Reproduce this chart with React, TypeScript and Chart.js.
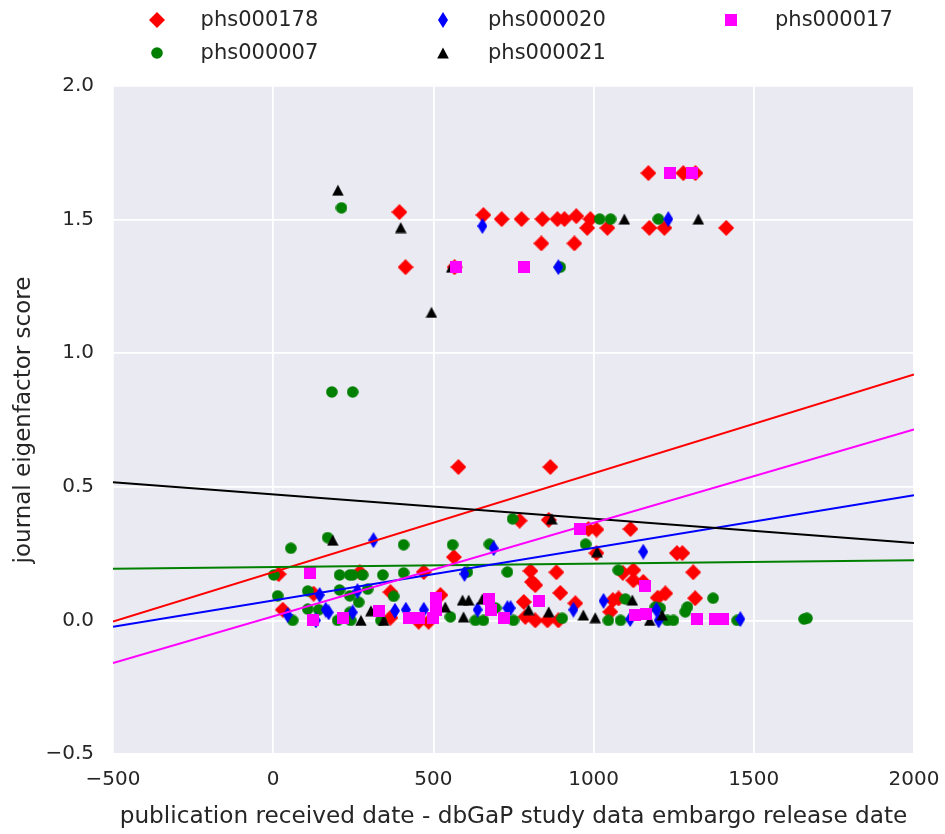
import React, { useEffect, useRef } from 'react';
import { Chart, registerables } from 'chart.js';

Chart.register(...registerables);

// ---------- data ----------
const seriesNames = ['phs000178', 'phs000007', 'phs000020', 'phs000021', 'phs000017'];
const seriesColors = ['#ff0000', '#008000', '#0000ff', '#000000', '#ff00ff'];
const seriesMarkers = ['diamond', 'circle', 'thin_diamond', 'triangle', 'square'];

const redX = [394, 413, 566, 656, 713, 775, 840, 887, 909, 946, 990, 980, 1043, 1174, 1221, 1414, 837, 940, 1171, 1280, 1318,
  578, 865,
  17, 270, 126, 366, 30, 366, 769, 860, 984, 1009, 1115, 564, 1009, 470, 803, 884, 1091, 818, 808, 896, 522, 782, 943, 1060, 1078,
  454, 485, 787, 818, 856, 890, 1260, 1277, 1311, 1124, 1124, 1155, 1224, 1200, 1317, 1052];
const redY = [1.528, 1.322, 1.322, 1.517, 1.502, 1.502, 1.502, 1.502, 1.502, 1.513, 1.502, 1.469, 1.469, 1.469, 1.469, 1.469, 1.411, 1.411, 1.674, 1.674, 1.674,
  0.574, 0.574,
  0.173, 0.18, 0.1, 0.106, 0.04, 0.01, 0.373, 0.376, 0.342, 0.34, 0.342, 0.237, 0.252, 0.181, 0.185, 0.18, 0.178, 0.132, 0.144, 0.103, 0.095, 0.069, 0.064, 0.076, 0.082,
  -0.005, -0.005, 0.013, 0.0, 0.0, 0.0, 0.252, 0.252, 0.18, 0.188, 0.15, 0.144, 0.101, 0.085, 0.083, 0.032];

const greenX = [213, 1019, 1053, 1202, 896,
  183, 248,
  55, 170, 407, 560, 675, 975, 747, 2, 207, 239, 248, 279, 342, 407, 606, 731, 1077,
  14, 108, 207, 239, 295, 267, 376, 61, 108, 142, 201, 239, 242, 336, 553, 631, 656, 694, 750, 902, 1046, 1084,
  1099, 1193, 1208, 1286, 1293, 1373, 1230, 1249, 1448, 1657, 1666];
const greenY = [1.544, 1.502, 1.502, 1.502, 1.322,
  0.855, 0.855,
  0.27, 0.31, 0.283, 0.283, 0.285, 0.285, 0.38, 0.17, 0.17, 0.17, 0.17, 0.17, 0.17, 0.178, 0.181, 0.181, 0.188,
  0.092, 0.11, 0.114, 0.092, 0.117, 0.068, 0.09, 0.0, 0.042, 0.04, 0.0, 0.03, 0.0, 0.0, 0.013, 0.0, 0.0, 0.046, 0.0, 0.008, 0.0, 0.0,
  0.08, 0.05, 0.046, 0.032, 0.05, 0.083, 0.0, 0.0, 0.0, 0.005, 0.008];

const blueX = [653, 1233, 890, 313, 688, 1155, 597, 145, 263, 45, 164, 173, 133, 248, 380, 414, 470, 638, 731, 741, 937, 1031, 1114, 1196, 1203, 1458];
const blueY = [1.476, 1.502, 1.322, 0.3, 0.27, 0.257, 0.174, 0.095, 0.11, 0.02, 0.04, 0.03, 0.0, 0.03, 0.036, 0.04, 0.04, 0.04, 0.046, 0.046, 0.04, 0.073, 0.005, 0.04, 0.0, 0.005];

const blackX = [202, 398, 557, 494, 1096, 1327, 186, 869, 1011, 274, 305, 345, 537, 591, 610, 653, 594, 797, 860, 968, 1005, 1121, 1175, 1214];
const blackY = [1.61, 1.47, 1.322, 1.153, 1.502, 1.502, 0.3, 0.38, 0.257, 0.0, 0.036, 0.0, 0.05, 0.076, 0.076, 0.08, 0.013, 0.04, 0.032, 0.02, 0.01, 0.076, 0.0, 0.02];

const magentaX = [572, 784, 1240, 1308, 959, 114, 1159, 123, 218, 330, 507, 507, 423, 454, 498, 675, 681, 719, 831, 1130, 1164, 1323, 1380, 1405];
const magentaY = [1.322, 1.322, 1.674, 1.674, 0.342, 0.177, 0.129, 0.0, 0.008, 0.036, 0.084, 0.04, 0.008, 0.008, 0.008, 0.08, 0.04, 0.008, 0.072, 0.02, 0.023, 0.005, 0.005, 0.005];

// regression lines: values at the two ends of the x range
const fitX = [-500, 2000];
const fitRedY = [-0.004, 0.92];
const fitGreenY = [0.193, 0.225];
const fitBlueY = [-0.024, 0.468];
const fitBlackY = [0.517, 0.29];
const fitMagentaY = [-0.16, 0.715];

const xTicks = [-500, 0, 500, 1000, 1500, 2000];
const xTickLabels = ['\u2212500', '0', '500', '1000', '1500', '2000'];
const yTicks = [-0.5, 0, 0.5, 1, 1.5, 2];
const yTickLabels = ['\u22120.5', '0.0', '0.5', '1.0', '1.5', '2.0'];

const xTitle = 'publication received date - dbGaP study data embargo release date';
const yTitle = 'journal eigenfactor score';

// ---------- helpers ----------
const FONT = "'DejaVu Sans', sans-serif";
const TEXT = '#262626';

function makeMarker(kind: string, color: string): HTMLCanvasElement {
  const c = document.createElement('canvas');
  let w = 12, h = 12;
  if (kind === 'diamond') { w = 16; h = 16; }
  if (kind === 'thin_diamond') { w = 10; h = 16; }
  c.width = w; c.height = h;
  const ctx = c.getContext('2d')!;
  ctx.fillStyle = color;
  ctx.beginPath();
  if (kind === 'diamond' || kind === 'thin_diamond') {
    ctx.moveTo(w / 2, 0); ctx.lineTo(w, h / 2); ctx.lineTo(w / 2, h); ctx.lineTo(0, h / 2); ctx.closePath();
  } else if (kind === 'circle') {
    ctx.arc(6, 6, 5.8, 0, Math.PI * 2);
  } else if (kind === 'triangle') {
    ctx.moveTo(6, 0.5); ctx.lineTo(11.8, 11.5); ctx.lineTo(0.2, 11.5); ctx.closePath();
  } else {
    ctx.rect(0, 0, w, h);
  }
  ctx.fill();
  return c;
}

function pts(xs: number[], ys: number[]) {
  return xs.map((x, i) => ({ x, y: ys[i] }));
}

export default function App() {
  const ref = useRef<HTMLCanvasElement>(null);

  useEffect(() => {
    if (!ref.current) return;
    const markers = seriesMarkers.map((m, i) => makeMarker(m, seriesColors[i]));
    const xs = [redX, greenX, blueX, blackX, magentaX];
    const ys = [redY, greenY, blueY, blackY, magentaY];
    const fits = [fitRedY, fitGreenY, fitBlueY, fitBlackY, fitMagentaY];

    const scatterSets = seriesNames.map((name, i) => ({
      type: 'scatter' as const,
      label: name,
      data: pts(xs[i], ys[i]),
      pointStyle: markers[i],
      pointRadius: 6,
      pointHoverRadius: 6,
      backgroundColor: seriesColors[i],
      borderColor: seriesColors[i],
      borderWidth: 0,
      order: 9 - i,
    }));
    const lineSets = seriesNames.map((name, i) => ({
      type: 'scatter' as const,
      label: name + ' fit',
      data: pts(fitX, fits[i]),
      showLine: true,
      pointRadius: 0,
      borderColor: seriesColors[i],
      backgroundColor: seriesColors[i],
      borderWidth: 2,
      order: 4 - i,
    }));

    const bgPlugin = {
      id: 'bg',
      beforeDraw(chart: any) {
        const { ctx, chartArea } = chart;
        ctx.save();
        ctx.fillStyle = '#ffffff';
        ctx.fillRect(0, 0, chart.width, chart.height);
        ctx.fillStyle = '#eaeaf2';
        ctx.fillRect(chartArea.left, chartArea.top, chartArea.right - chartArea.left, chartArea.bottom - chartArea.top);
        ctx.restore();
      },
    };

    const legendPlugin = {
      id: 'customLegend',
      afterDraw(chart: any) {
        const ctx = chart.ctx as CanvasRenderingContext2D;
        const colMarkerX = [156.6, 443, 731];
        const colTextX = [200.6, 488, 775];
        const rowY = [20, 53];
        ctx.save();
        ctx.font = `21px ${FONT}`;
        ctx.fillStyle = TEXT;
        ctx.textBaseline = 'middle';
        ctx.textAlign = 'left';
        seriesNames.forEach((name, i) => {
          const col = Math.floor(i / 2);
          const row = i % 2;
          const m = markers[i];
          ctx.drawImage(m, Math.round(colMarkerX[col] - m.width / 2), Math.round(rowY[row] - m.height / 2));
          ctx.fillText(name, colTextX[col], rowY[row] + 1);
        });
        ctx.restore();
      },
    };

    const chart = new Chart(ref.current, {
      type: 'scatter',
      data: { datasets: [...scatterSets, ...lineSets] as any },
      options: {
        animation: false,
        responsive: false,
        devicePixelRatio: 1,
        layout: { padding: { top: 86, right: 31, bottom: 0, left: 0 } },
        plugins: { legend: { display: false }, tooltip: { enabled: false } },
        scales: {
          x: {
            type: 'linear',
            min: -500,
            max: 2000,
            afterBuildTicks: (s: any) => { s.ticks = xTicks.map((v) => ({ value: v })); },
            afterFit: (s: any) => { s.height = 80; s.paddingLeft = 0; s.paddingRight = 0; },
            ticks: {
              callback: (v: any) => xTickLabels[xTicks.indexOf(Number(v))] ?? '',
              font: { family: FONT, size: 20 },
              color: TEXT,
              padding: 14,
              maxRotation: 0,
              autoSkip: false,
            },
            grid: { color: '#ffffff', lineWidth: 1.8, drawTicks: false },
            border: { display: false },
            title: {
              display: true,
              text: xTitle,
              font: { family: FONT, size: 23.2 },
              color: TEXT,
              padding: { top: 0, bottom: 3 },
            },
          },
          y: {
            type: 'linear',
            min: -0.5,
            max: 2.0,
            afterBuildTicks: (s: any) => { s.ticks = yTicks.map((v) => ({ value: v })); },
            afterFit: (s: any) => { s.width = 113; s.paddingTop = 0; s.paddingBottom = 0; },
            ticks: {
              callback: (v: any) => yTickLabels[yTicks.indexOf(Number(v))] ?? '',
              font: { family: FONT, size: 20 },
              color: TEXT,
              padding: 19,
              autoSkip: false,
            },
            grid: { color: '#ffffff', lineWidth: 1.8, drawTicks: false },
            border: { display: false },
            title: {
              display: true,
              text: yTitle,
              font: { family: FONT, size: 23 },
              color: TEXT,
              padding: { top: 10, bottom: 0 },
            },
          },
        },
      },
      plugins: [bgPlugin, legendPlugin],
    });
    return () => chart.destroy();
  }, []);

  return (
    <div style={{ position: 'fixed', left: 0, top: 0, width: 945, height: 834, background: '#fff' }}>
      <canvas ref={ref} width={945} height={834} style={{ display: 'block', width: 945, height: 834 }} />
    </div>
  );
}
